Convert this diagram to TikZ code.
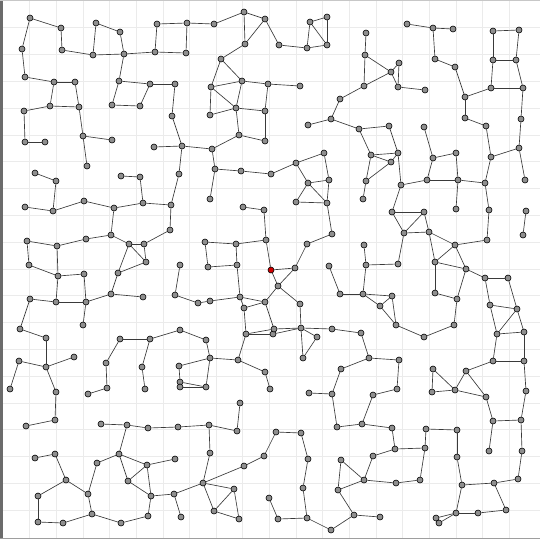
\documentclass[tikz,border=0pt]{standalone}
\usepackage{xcolor}
\usepackage{tikz}
\definecolor{gridline}{HTML}{EBEBEB}
\definecolor{vertexfill}{HTML}{8F8F8F}
\definecolor{seed}{HTML}{D00000}
\definecolor{edgecol}{HTML}{3A3A3A}

\begin{document}
\begin{tikzpicture}[
  x=1pt,
  y=-1pt,
  vtx/.style={circle, draw=black, fill=vertexfill, line width=0.6pt, minimum size=6pt, inner sep=0pt},
  root/.style={vtx, fill=seed},
  link/.style={draw=edgecol, line width=0.65pt},
  gridrule/.style={draw=gridline, line width=0.8pt}
]
\useasboundingbox (0,0) rectangle (540,539);
\fill[white] (0,0) rectangle (540,539);
\foreach \k in {1,...,19} {
  \draw[gridrule] ({3+26.65*\k},0) -- ({3+26.65*\k},539);
  \draw[gridrule] (0,{1+26.8*\k}) -- (540,{1+26.8*\k});
}
\fill[black!58] (0,0) rectangle (3,539);
\fill[black!22] (0,0) rectangle (540,1.3);
\fill[black!38] (0,537.5) rectangle (540,539);

% vertices, named by position
\foreach \x/\y in {30/18, 61/28, 22/49, 62/50, 96/23, 120/32, 93/55, 124/54, 157/24, 187/23, 155/52, 186/53, 214/24, 244/12, 265/19, 245/44, 279/45, 307/48, 310/22, 327/17, 327/45,
  407/24, 433/28, 453/29, 435/59, 455/67, 465/97, 465/118, 486/126, 491/157, 485/183, 493/31, 519/30, 493/60, 516/60, 491/88, 523/88, 521/119, 519/148, 525/180,
  366/33, 365/55, 391/72, 399/63, 398/87, 425/90, 364/86, 340/99, 331/119, 308/125, 359/129, 389/126, 371/155, 398/153, 391/162, 366/181, 401/185, 424/127, 433/158, 456/153, 427/180, 458/180,
  25/77, 54/82, 75/82, 50/106, 79/107, 24/111, 25/142, 45/142, 83/136, 112/140, 87/166, 35/173, 56/181, 119/81, 150/84, 175/84, 112/105, 140/106, 172/116, 154/147, 182/146, 179/174, 121/176, 140/177,
  221/59, 211/87, 242/81, 268/84, 300/86, 236/108, 265/111, 210/115, 239/135, 265/141, 212/149, 215/169, 241/171, 271/174, 296/163, 324/153, 308/183, 329/180, 296/202, 327/203,
  210/199, 243/207, 264/210, 266/240, 236/244, 205/242, 208/267, 237/265, 295/268, 307/244, 332/234, 278/286,
  25/207, 53/211, 84/201, 114/208, 143/203, 171/205, 170/230, 111/235, 86/239, 57/246, 27/241, 29/265, 58/276, 84/274, 129/244, 144/244, 146/262, 118/273, 111/294, 143/297, 30/299, 56/302, 86/302, 83/325,
  180/265, 175/295, 198/303, 210/301, 240/297, 244/308, 265/302, 300/304,
  363/199, 392/212, 424/212, 404/233, 429/232, 456/209, 489/210, 487/240, 455/245, 526/211, 523/235, 364/245, 366/265, 398/264, 435/262, 466/269, 485/278, 508/278, 435/293, 457/299, 490/305, 517/309, 329/266, 340/294, 363/294, 392/296, 380/306, 396/325, 424/337, 454/325, 497/334, 524/332, 493/361, 524/361,
  20/329, 46/338, 120/339, 150/339, 180/330, 206/340, 210/358, 238/360, 246/334, 273/334, 274/329, 301/328, 317/337, 332/329, 361/333, 303/358, 369/358, 399/360,
  19/361, 46/367, 74/357, 10/389, 56/392, 55/420, 26/426, 106/363, 107/388, 88/394, 142/367, 145/389, 179/366, 180/382, 180/387, 206/387, 265/372, 270/389,
  240/403, 237/431, 209/425, 178/427, 148/428, 127/425, 101/424, 210/453, 175/459, 203/483, 234/489, 214/511, 239/519, 244/466, 264/456, 276/432, 301/433, 308/459, 303/488, 307/518, 278/519, 269/498, 331/530, 354/515, 338/490, 341/460, 364/480, 380/517,
  309/393, 332/394, 341/369, 337/427, 362/424, 397/389, 373/395, 392/428, 395/449, 425/448, 426/429, 457/430, 457/457, 462/485, 494/483, 506/510, 478/513, 456/513, 436/518, 439/523, 373/456, 396/483, 420/480,
  433/369, 432/392, 455/390, 466/371, 486/397, 493/421, 521/420, 489/451, 522/451, 518/479, 526/391,
  119/454, 97/463, 147/465, 128/481, 151/496, 174/494, 181/517, 148/516, 121/523, 92/514, 88/494, 66/480, 55/454, 35/458, 38/496, 38/522, 63/523}
  \node[vtx] (n\x-\y) at (\x,\y) {};
\node[root] (n271-270) at (271,270) {};

% links
\foreach \a/\b in {30-18/61-28, 30-18/22-49, 61-28/62-50, 62-50/93-55, 22-49/25-77, 25-77/54-82, 54-82/75-82, 54-82/50-106, 75-82/79-107, 50-106/79-107, 50-106/24-111, 24-111/25-142, 25-142/45-142, 79-107/83-136, 83-136/112-140, 83-136/87-166, 35-173/56-181, 56-181/53-211,
  96-23/120-32, 96-23/93-55, 120-32/124-54, 93-55/124-54, 124-54/155-52, 155-52/186-53, 157-24/187-23, 157-24/155-52, 187-23/186-53, 124-54/119-81, 119-81/112-105, 119-81/150-84, 112-105/140-106, 140-106/150-84, 150-84/175-84, 175-84/172-116, 172-116/182-146, 154-147/182-146, 182-146/179-174, 182-146/212-149, 179-174/171-205, 121-176/140-177, 140-177/143-203,
  187-23/214-24, 214-24/244-12, 244-12/265-19, 244-12/245-44, 265-19/245-44, 265-19/279-45, 279-45/307-48, 307-48/310-22, 307-48/327-45, 310-22/327-17, 310-22/327-45, 327-17/327-45,
  245-44/221-59, 221-59/211-87, 221-59/242-81, 211-87/242-81, 211-87/236-108, 211-87/210-115, 210-115/236-108, 242-81/268-84, 242-81/236-108, 268-84/300-86, 268-84/265-111, 236-108/265-111, 236-108/239-135, 265-111/265-141, 239-135/265-141, 239-135/212-149,
  212-149/215-169, 215-169/241-171, 241-171/271-174, 271-174/296-163, 296-163/324-153, 296-163/308-183, 324-153/329-180, 308-183/329-180, 215-169/210-199, 308-183/296-202, 296-202/327-203, 308-183/327-203, 329-180/327-203,
  407-24/433-28, 433-28/453-29, 433-28/435-59, 435-59/455-67, 455-67/465-97, 465-97/465-118, 465-118/486-126, 486-126/491-157, 491-157/485-183, 465-97/491-88, 491-88/523-88, 493-31/519-30, 493-31/493-60, 519-30/516-60, 493-60/516-60, 493-60/491-88, 516-60/523-88, 523-88/521-119, 521-119/519-148, 519-148/491-157, 519-148/525-180,
  366-33/365-55, 365-55/391-72, 365-55/364-86, 364-86/391-72, 391-72/399-63, 391-72/398-87, 399-63/398-87, 398-87/425-90, 364-86/340-99, 340-99/331-119, 331-119/308-125, 331-119/359-129, 359-129/389-126, 359-129/371-155, 389-126/398-153, 371-155/398-153, 371-155/391-162, 398-153/391-162, 371-155/366-181, 391-162/366-181, 398-153/401-185,
  424-127/433-158, 433-158/456-153, 433-158/427-180, 456-153/458-180, 427-180/458-180, 401-185/427-180, 458-180/485-183,
  25-207/53-211, 53-211/84-201, 84-201/114-208, 114-208/143-203, 143-203/171-205, 171-205/170-230, 114-208/111-235, 111-235/86-239, 86-239/57-246, 57-246/27-241, 27-241/29-265, 29-265/58-276, 57-246/58-276, 58-276/84-274, 84-274/86-302, 58-276/56-302, 30-299/56-302, 56-302/86-302, 86-302/83-325, 86-302/111-294, 111-294/143-297, 111-294/118-273, 118-273/146-262, 118-273/129-244, 111-235/129-244, 129-244/144-244, 129-244/146-262, 144-244/146-262, 144-244/170-230,
  30-299/20-329, 20-329/46-338, 46-338/46-367, 19-361/46-367, 46-367/74-357, 19-361/10-389, 46-367/56-392, 56-392/55-420, 55-420/26-426, 120-339/150-339, 120-339/106-363, 106-363/107-388, 107-388/88-394, 150-339/180-330, 150-339/142-367, 142-367/145-389, 180-330/206-340, 206-340/210-358,
  180-265/175-295, 175-295/198-303, 198-303/210-301, 210-301/240-297,
  243-207/264-210, 264-210/266-240, 266-240/271-270, 266-240/236-244, 236-244/205-242, 205-242/208-267, 208-267/237-265, 236-244/237-265, 237-265/240-297, 240-297/265-302, 240-297/244-308, 244-308/265-302, 244-308/246-334,
  271-270/295-268, 271-270/278-286, 295-268/278-286, 295-268/307-244, 307-244/332-234, 332-234/327-203, 278-286/265-302, 278-286/300-304, 300-304/301-328, 265-302/274-329, 246-334/274-329, 246-334/273-334, 274-329/301-328, 273-334/301-328, 301-328/332-329, 301-328/317-337, 301-328/303-358, 317-337/303-358, 332-329/361-333,
  246-334/238-360, 210-358/238-360, 179-366/210-358, 179-366/180-382, 180-382/206-387, 180-387/206-387, 210-358/206-387, 238-360/265-372, 265-372/270-389, 329-266/340-294, 340-294/363-294,
  366-181/363-199, 401-185/392-212, 392-212/424-212, 392-212/404-233, 424-212/404-233, 404-233/429-232, 424-212/429-232, 429-232/455-245, 429-232/435-262, 404-233/398-264, 455-245/435-262, 455-245/466-269, 435-262/466-269, 435-262/435-293, 466-269/485-278, 485-278/508-278, 466-269/457-299, 435-293/457-299, 457-299/454-325, 454-325/424-337, 424-337/396-325, 396-325/380-306, 396-325/392-296, 380-306/392-296, 363-294/392-296, 363-294/380-306,
  364-245/366-265, 366-265/398-264, 366-265/363-294, 485-278/490-305, 508-278/517-309, 490-305/517-309, 490-305/497-334, 517-309/497-334, 497-334/524-332, 517-309/524-332, 497-334/493-361, 524-332/524-361, 493-361/524-361,
  458-180/456-209, 485-183/489-210, 489-210/487-240, 487-240/455-245, 526-211/523-235, 361-333/369-358, 369-358/399-360,
  309-393/332-394, 332-394/341-369, 341-369/369-358, 332-394/337-427, 337-427/362-424, 399-360/397-389, 397-389/373-395, 373-395/362-424, 362-424/392-428, 392-428/395-449, 395-449/425-448, 425-448/426-429, 426-429/457-430, 457-430/457-457, 457-457/462-485, 462-485/494-483, 494-483/506-510, 506-510/478-513, 478-513/456-513, 456-513/462-485, 456-513/436-518, 456-513/439-523,
  425-448/420-480, 420-480/396-483, 396-483/364-480, 364-480/373-456, 373-456/395-449, 341-460/364-480, 338-490/364-480, 338-490/341-460, 354-515/338-490, 331-530/354-515, 307-518/331-530, 354-515/380-517,
  303-488/307-518, 307-518/278-519, 278-519/269-498, 308-459/303-488, 301-433/308-459, 276-432/301-433, 264-456/276-432, 244-466/264-456, 203-483/244-466,
  240-403/237-431, 237-431/209-425, 209-425/178-427, 209-425/210-453, 210-453/203-483, 203-483/234-489, 203-483/214-511, 214-511/239-519, 234-489/239-519, 234-489/214-511,
  433-369/432-392, 433-369/455-390, 432-392/455-390, 455-390/466-371, 466-371/486-397, 455-390/486-397, 466-371/493-361, 486-397/493-421, 493-421/521-420, 493-421/489-451, 521-420/522-451, 522-451/518-479, 494-483/518-479, 524-361/526-391, 526-391/521-420,
  101-424/127-425, 127-425/148-428, 148-428/178-427, 127-425/119-454, 119-454/97-463, 119-454/147-465, 119-454/128-481, 147-465/175-459, 147-465/128-481, 147-465/151-496, 128-481/151-496, 151-496/174-494, 174-494/181-517, 151-496/148-516, 148-516/121-523, 121-523/92-514, 92-514/88-494, 88-494/97-463, 88-494/66-480, 66-480/55-454, 55-454/35-458, 66-480/38-496, 38-496/38-522, 38-522/63-523, 63-523/92-514, 174-494/203-483}
  \draw[link] (n\a) -- (n\b);
\end{tikzpicture}
\end{document}
